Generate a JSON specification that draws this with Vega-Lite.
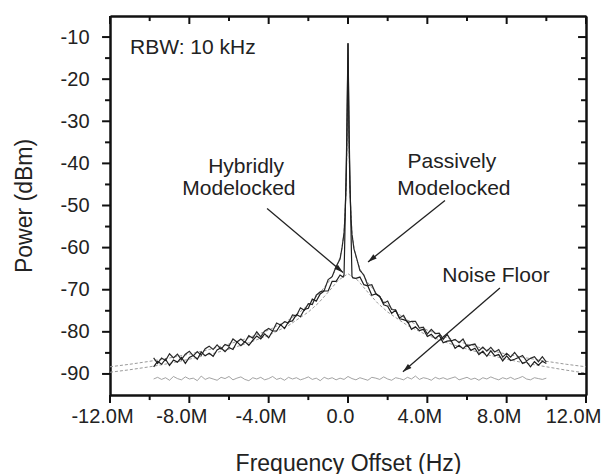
{
"$schema":"https://vega.github.io/schema/vega-lite/v6.json",
"width":476,"height":379,"autosize":"none",
"padding":{"left":110,"top":16,"right":16,"bottom":79},
"background":"white",
"config":{"view":{"stroke":null}},
"datasets":{
"fitA":[{"x":-12,"y":-88.3},{"x":-11,"y":-87.7},{"x":-10,"y":-87.0},{"x":-9,"y":-86.2},{"x":-8,"y":-85.3},{"x":-7,"y":-84.2},{"x":-6,"y":-82.9},{"x":-5,"y":-81.4},{"x":-4,"y":-79.6},{"x":-3,"y":-77.2},{"x":-2.5,"y":-75.6},{"x":-2,"y":-73.6},{"x":-1.5,"y":-71.2},{"x":-1,"y":-68.3},{"x":-0.8,"y":-66.8},{"x":-0.6,"y":-65.0},{"x":-0.4,"y":-62.2},{"x":-0.3,"y":-60.0},{"x":-0.2,"y":-56.5},{"x":-0.1,"y":-47.0},{"x":-0.05,"y":-36.0},{"x":0,"y":-11.5},{"x":0.05,"y":-36.0},{"x":0.1,"y":-47.0},{"x":0.2,"y":-56.5},{"x":0.3,"y":-60.0},{"x":0.4,"y":-62.2},{"x":0.6,"y":-65.0},{"x":0.8,"y":-66.8},{"x":1,"y":-68.3},{"x":1.5,"y":-71.2},{"x":2,"y":-73.6},{"x":2.5,"y":-75.6},{"x":3,"y":-77.2},{"x":4,"y":-79.6},{"x":5,"y":-81.4},{"x":6,"y":-82.9},{"x":7,"y":-84.2},{"x":8,"y":-85.3},{"x":9,"y":-86.2},{"x":10,"y":-87.0},{"x":11,"y":-87.7},{"x":12,"y":-88.3}],
"fitB":[{"x":-12,"y":-89.6},{"x":-11,"y":-89.0},{"x":-10,"y":-88.3},{"x":-9,"y":-87.5},{"x":-8,"y":-86.5},{"x":-7,"y":-85.4},{"x":-6,"y":-84.1},{"x":-5,"y":-82.6},{"x":-4,"y":-80.8},{"x":-3,"y":-78.5},{"x":-2,"y":-75.3},{"x":-1.5,"y":-73.2},{"x":-1,"y":-70.6},{"x":-0.5,"y":-67.8},{"x":0,"y":-66.2},{"x":0.5,"y":-67.8},{"x":1,"y":-70.6},{"x":1.5,"y":-73.2},{"x":2,"y":-75.3},{"x":3,"y":-78.5},{"x":4,"y":-80.8},{"x":5,"y":-82.6},{"x":6,"y":-84.1},{"x":7,"y":-85.4},{"x":8,"y":-86.5},{"x":9,"y":-87.5},{"x":10,"y":-88.3},{"x":11,"y":-89.1},{"x":12,"y":-89.8}],
"noise":[{"x":-9.8,"y":-91.2},{"x":-9.6,"y":-90.8},{"x":-9.4,"y":-91.3},{"x":-9.2,"y":-90.9},{"x":-9.0,"y":-91.5},{"x":-8.8,"y":-90.6},{"x":-8.6,"y":-91.1},{"x":-8.4,"y":-91.4},{"x":-8.2,"y":-90.7},{"x":-8.0,"y":-91.2},{"x":-7.8,"y":-91.0},{"x":-7.6,"y":-91.6},{"x":-7.4,"y":-90.5},{"x":-7.2,"y":-91.3},{"x":-7.0,"y":-90.9},{"x":-6.8,"y":-91.2},{"x":-6.6,"y":-91.5},{"x":-6.4,"y":-90.8},{"x":-6.2,"y":-91.1},{"x":-6.0,"y":-90.6},{"x":-5.8,"y":-91.4},{"x":-5.6,"y":-91.0},{"x":-5.4,"y":-90.7},{"x":-5.2,"y":-91.3},{"x":-5.0,"y":-91.6},{"x":-4.8,"y":-90.9},{"x":-4.6,"y":-91.2},{"x":-4.4,"y":-90.8},{"x":-4.2,"y":-91.4},{"x":-4.0,"y":-91.1},{"x":-3.8,"y":-90.6},{"x":-3.6,"y":-91.3},{"x":-3.4,"y":-91.0},{"x":-3.2,"y":-91.5},{"x":-3.0,"y":-90.8},{"x":-2.8,"y":-91.2},{"x":-2.6,"y":-90.9},{"x":-2.4,"y":-91.4},{"x":-2.2,"y":-91.1},{"x":-2.0,"y":-90.7},{"x":-1.8,"y":-91.3},{"x":-1.6,"y":-91.0},{"x":-1.4,"y":-91.6},{"x":-1.2,"y":-90.8},{"x":-1.0,"y":-91.2},{"x":-0.8,"y":-90.9},{"x":-0.6,"y":-91.4},{"x":-0.4,"y":-91.0},{"x":-0.2,"y":-91.3},{"x":0,"y":-90.6},{"x":0.2,"y":-91.1},{"x":0.4,"y":-91.4},{"x":0.6,"y":-90.9},{"x":0.8,"y":-91.2},{"x":1.0,"y":-91.5},{"x":1.2,"y":-90.8},{"x":1.4,"y":-91.0},{"x":1.6,"y":-91.3},{"x":1.8,"y":-90.7},{"x":2.0,"y":-91.2},{"x":2.2,"y":-91.5},{"x":2.4,"y":-90.9},{"x":2.6,"y":-91.1},{"x":2.8,"y":-91.4},{"x":3.0,"y":-90.8},{"x":3.2,"y":-91.2},{"x":3.4,"y":-90.5},{"x":3.6,"y":-91.3},{"x":3.8,"y":-90.9},{"x":4.0,"y":-91.1},{"x":4.2,"y":-91.5},{"x":4.4,"y":-90.8},{"x":4.6,"y":-91.2},{"x":4.8,"y":-90.9},{"x":5.0,"y":-91.3},{"x":5.2,"y":-91.0},{"x":5.4,"y":-90.7},{"x":5.6,"y":-91.4},{"x":5.8,"y":-91.1},{"x":6.0,"y":-90.8},{"x":6.2,"y":-91.3},{"x":6.4,"y":-91.0},{"x":6.6,"y":-91.5},{"x":6.8,"y":-90.9},{"x":7.0,"y":-91.2},{"x":7.2,"y":-90.7},{"x":7.4,"y":-91.1},{"x":7.6,"y":-91.4},{"x":7.8,"y":-90.9},{"x":8.0,"y":-91.2},{"x":8.2,"y":-90.8},{"x":8.4,"y":-91.3},{"x":8.6,"y":-91.0},{"x":8.8,"y":-90.6},{"x":9.0,"y":-91.2},{"x":9.2,"y":-91.4},{"x":9.4,"y":-90.9},{"x":9.6,"y":-91.1},{"x":9.8,"y":-91.3},{"x":10.0,"y":-91.0}],
"passive":[{"x":-9.8,"y":-86.2},{"x":-9.6,"y":-87.5},{"x":-9.4,"y":-86.2},{"x":-9.2,"y":-86.8},{"x":-9.0,"y":-85.2},{"x":-8.8,"y":-86.2},{"x":-8.6,"y":-85.3},{"x":-8.4,"y":-86.6},{"x":-8.2,"y":-85.3},{"x":-8.0,"y":-84.6},{"x":-7.8,"y":-85.7},{"x":-7.6,"y":-84.7},{"x":-7.4,"y":-85.6},{"x":-7.2,"y":-84.0},{"x":-7.0,"y":-83.4},{"x":-6.8,"y":-84.2},{"x":-6.6,"y":-83.1},{"x":-6.4,"y":-84.1},{"x":-6.2,"y":-83.0},{"x":-6.0,"y":-83.4},{"x":-5.8,"y":-81.7},{"x":-5.6,"y":-82.4},{"x":-5.4,"y":-81.7},{"x":-5.2,"y":-82.5},{"x":-5.0,"y":-80.9},{"x":-4.8,"y":-81.5},{"x":-4.6,"y":-80.0},{"x":-4.4,"y":-81.2},{"x":-4.2,"y":-79.8},{"x":-4.0,"y":-79.2},{"x":-3.8,"y":-79.8},{"x":-3.6,"y":-77.9},{"x":-3.4,"y":-78.4},{"x":-3.2,"y":-77.6},{"x":-3.0,"y":-77.9},{"x":-2.8,"y":-76.0},{"x":-2.6,"y":-76.2},{"x":-2.4,"y":-74.3},{"x":-2.2,"y":-74.9},{"x":-2.0,"y":-73.3},{"x":-1.8,"y":-73.5},{"x":-1.6,"y":-71.3},{"x":-1.4,"y":-70.5},{"x":-1.2,"y":-70.2},{"x":-1.0,"y":-67.6},{"x":-0.8,"y":-66.9},{"x":-0.6,"y":-64.5},{"x":-0.4,"y":-62.7},{"x":-0.3,"y":-60.0},{"x":-0.2,"y":-56.5},{"x":-0.15,"y":-52.5},{"x":-0.1,"y":-45.5},{"x":-0.05,"y":-33.0},{"x":0,"y":-11.5},{"x":0.05,"y":-33.5},{"x":0.1,"y":-46.0},{"x":0.15,"y":-53.0},{"x":0.2,"y":-56.8},{"x":0.3,"y":-60.3},{"x":0.4,"y":-61.9},{"x":0.6,"y":-65.4},{"x":0.8,"y":-66.5},{"x":1.0,"y":-69.0},{"x":1.2,"y":-68.8},{"x":1.4,"y":-70.9},{"x":1.6,"y":-71.6},{"x":1.8,"y":-73.2},{"x":2.0,"y":-72.7},{"x":2.2,"y":-74.7},{"x":2.4,"y":-74.8},{"x":2.6,"y":-76.7},{"x":2.8,"y":-76.1},{"x":3.0,"y":-77.8},{"x":3.2,"y":-77.5},{"x":3.4,"y":-77.5},{"x":3.6,"y":-79.1},{"x":3.8,"y":-78.9},{"x":4.0,"y":-80.5},{"x":4.2,"y":-79.4},{"x":4.4,"y":-80.4},{"x":4.6,"y":-80.3},{"x":4.8,"y":-81.8},{"x":5.0,"y":-80.6},{"x":5.2,"y":-82.2},{"x":5.4,"y":-81.8},{"x":5.6,"y":-82.6},{"x":5.8,"y":-81.7},{"x":6.0,"y":-83.5},{"x":6.2,"y":-83.1},{"x":6.4,"y":-82.9},{"x":6.6,"y":-84.5},{"x":6.8,"y":-83.6},{"x":7.0,"y":-84.6},{"x":7.2,"y":-83.7},{"x":7.4,"y":-84.8},{"x":7.6,"y":-84.2},{"x":7.8,"y":-86.0},{"x":8.0,"y":-85.1},{"x":8.2,"y":-86.0},{"x":8.4,"y":-84.9},{"x":8.6,"y":-86.1},{"x":8.8,"y":-85.6},{"x":9.0,"y":-86.9},{"x":9.2,"y":-86.3},{"x":9.4,"y":-85.9},{"x":9.6,"y":-87.1},{"x":9.8,"y":-85.9},{"x":10.0,"y":-87.2}],
"hybrid":[{"x":-9.8,"y":-88.3},{"x":-9.6,"y":-87.0},{"x":-9.4,"y":-87.7},{"x":-9.2,"y":-86.5},{"x":-9.0,"y":-88.0},{"x":-8.8,"y":-86.7},{"x":-8.6,"y":-87.2},{"x":-8.4,"y":-86.1},{"x":-8.2,"y":-87.5},{"x":-8.0,"y":-86.1},{"x":-7.8,"y":-85.6},{"x":-7.6,"y":-86.5},{"x":-7.4,"y":-84.8},{"x":-7.2,"y":-85.7},{"x":-7.0,"y":-85.1},{"x":-6.8,"y":-85.8},{"x":-6.6,"y":-84.3},{"x":-6.4,"y":-83.8},{"x":-6.2,"y":-84.7},{"x":-6.0,"y":-83.7},{"x":-5.8,"y":-84.2},{"x":-5.6,"y":-82.4},{"x":-5.4,"y":-83.3},{"x":-5.2,"y":-82.3},{"x":-5.0,"y":-83.2},{"x":-4.8,"y":-82.0},{"x":-4.6,"y":-81.0},{"x":-4.4,"y":-81.7},{"x":-4.2,"y":-80.5},{"x":-4.0,"y":-81.4},{"x":-3.8,"y":-79.8},{"x":-3.6,"y":-79.8},{"x":-3.4,"y":-78.3},{"x":-3.2,"y":-79.2},{"x":-3.0,"y":-77.6},{"x":-2.8,"y":-77.4},{"x":-2.6,"y":-75.9},{"x":-2.4,"y":-76.4},{"x":-2.2,"y":-74.7},{"x":-2.0,"y":-74.4},{"x":-1.8,"y":-72.2},{"x":-1.6,"y":-72.7},{"x":-1.4,"y":-71.0},{"x":-1.2,"y":-70.3},{"x":-1.0,"y":-70.3},{"x":-0.8,"y":-68.0},{"x":-0.6,"y":-68.0},{"x":-0.4,"y":-66.5},{"x":-0.25,"y":-67.0},{"x":-0.2,"y":-66.5},{"x":-0.17,"y":-60.0},{"x":-0.14,"y":-52.0},{"x":-0.1,"y":-44.0},{"x":-0.06,"y":-33.0},{"x":-0.03,"y":-22.0},{"x":0,"y":-11.5},{"x":0.03,"y":-22.5},{"x":0.06,"y":-33.5},{"x":0.1,"y":-44.5},{"x":0.14,"y":-52.5},{"x":0.17,"y":-60.5},{"x":0.2,"y":-66.8},{"x":0.25,"y":-67.2},{"x":0.4,"y":-67.3},{"x":0.6,"y":-67.0},{"x":0.8,"y":-68.8},{"x":1.0,"y":-69.1},{"x":1.2,"y":-71.3},{"x":1.4,"y":-71.0},{"x":1.6,"y":-71.6},{"x":1.8,"y":-73.6},{"x":2.0,"y":-73.9},{"x":2.2,"y":-75.6},{"x":2.4,"y":-74.9},{"x":2.6,"y":-76.9},{"x":2.8,"y":-77.1},{"x":3.0,"y":-77.5},{"x":3.2,"y":-79.4},{"x":3.4,"y":-78.8},{"x":3.6,"y":-79.7},{"x":3.8,"y":-79.4},{"x":4.0,"y":-81.1},{"x":4.2,"y":-80.6},{"x":4.4,"y":-81.6},{"x":4.6,"y":-80.8},{"x":4.8,"y":-82.6},{"x":5.0,"y":-82.2},{"x":5.2,"y":-82.1},{"x":5.4,"y":-83.9},{"x":5.6,"y":-83.2},{"x":5.8,"y":-84.0},{"x":6.0,"y":-83.1},{"x":6.2,"y":-84.4},{"x":6.4,"y":-83.9},{"x":6.6,"y":-85.4},{"x":6.8,"y":-84.6},{"x":7.0,"y":-85.8},{"x":7.2,"y":-84.5},{"x":7.4,"y":-85.7},{"x":7.6,"y":-85.4},{"x":7.8,"y":-86.9},{"x":8.0,"y":-85.7},{"x":8.2,"y":-86.8},{"x":8.4,"y":-86.5},{"x":8.6,"y":-86.1},{"x":8.8,"y":-87.5},{"x":9.0,"y":-87.1},{"x":9.2,"y":-88.3},{"x":9.4,"y":-87.1},{"x":9.6,"y":-87.9},{"x":9.8,"y":-87.0},{"x":10.0,"y":-87.5}],
"arrows":[{"id":"h","x":-4.08,"y":-50.7},{"id":"h","x":-0.25,"y":-65.9},{"id":"p","x":4.89,"y":-48.8},{"id":"p","x":1.01,"y":-63.4},{"id":"n","x":7.66,"y":-69.6},{"id":"n","x":2.77,"y":-89.5}],
"tips":[{"id":"h","x":-0.25,"y":-65.9},{"id":"p","x":1.01,"y":-63.4},{"id":"n","x":2.77,"y":-89.5}],
"labels":[{"t":"RBW: 10 kHz","x":-7.82,"y":-14.0},{"t":"Hybridly","x":-5.14,"y":-42.2},{"t":"Modelocked","x":-5.5,"y":-47.6},{"t":"Passively","x":5.24,"y":-41.2},{"t":"Modelocked","x":5.34,"y":-47.4},{"t":"Noise Floor","x":7.46,"y":-68.2}],
"xmaj":[{"x":-12},{"x":-8},{"x":-4},{"x":0},{"x":4},{"x":8},{"x":12}],
"xmin":[{"x":-10},{"x":-6},{"x":-2},{"x":2},{"x":6},{"x":10}],
"ymaj":[{"y":-90},{"y":-80},{"y":-70},{"y":-60},{"y":-50},{"y":-40},{"y":-30},{"y":-20},{"y":-10}],
"ymin":[{"y":-85},{"y":-75},{"y":-65},{"y":-55},{"y":-45},{"y":-35},{"y":-25},{"y":-15}]
},
"layer":[
{"data":{"name":"fitA"},"mark":{"type":"line","color":"#9a9a9a","strokeWidth":1,"strokeDash":[3,2]},
"encoding":{
"x":{"field":"x","type":"quantitative","scale":{"domain":[-12,12],"nice":false,"zero":false},
"axis":{"orient":"bottom","values":[-12,-8,-4,0,4,8,12],"labelExpr":"datum.value === 0 ? '0.0' : (datum.value < 0 ? '-' : '') + abs(datum.value) + '.0M'","ticks":false,"domainWidth":2.5,"domainColor":"#111","labelFont":"Liberation Sans","labelFontSize":20,"labelColor":"#222","labelPadding":11,"labelOffset":{"condition":{"test":"datum.value === 12","value":-13},"value":-8},"labelOverlap":false,"labelBound":false,"labelFlush":false,"grid":false,"title":"Frequency Offset (Hz)","titleFont":"Liberation Sans","titleFontSize":23,"titleFontWeight":"normal","titleColor":"#222","titleX":238,"titleY":75,"titleAlign":"center","titleBaseline":"alphabetic"}},
"y":{"field":"y","type":"quantitative","scale":{"domain":[-95,-5],"nice":false,"zero":false},
"axis":{"orient":"left","values":[-90,-80,-70,-60,-50,-40,-30,-20,-10],"labelExpr":"'' + datum.value","ticks":false,"domainWidth":2.5,"domainColor":"#111","labelFont":"Liberation Sans","labelFontSize":20,"labelColor":"#222","labelPadding":21,"labelOverlap":false,"labelBound":false,"labelFlush":false,"grid":false,"title":"Power (dBm)","titleFont":"Liberation Sans","titleFontSize":23,"titleFontWeight":"normal","titleColor":"#222","titleX":-86,"titleY":189.5,"titleAngle":-90,"titleAlign":"center","titleBaseline":"middle"}}
}},
{"data":{"name":"fitB"},"mark":{"type":"line","color":"#9a9a9a","strokeWidth":1,"strokeDash":[3,2]},
"encoding":{
"x":{"field":"x","type":"quantitative","scale":{"domain":[-12,12],"nice":false,"zero":false},
"axis":{"orient":"top","labels":false,"ticks":false,"domainWidth":2.5,"domainColor":"#111","grid":false,"title":null}},
"y":{"field":"y","type":"quantitative","scale":{"domain":[-95,-5],"nice":false,"zero":false},
"axis":{"orient":"right","labels":false,"ticks":false,"domainWidth":2.5,"domainColor":"#111","grid":false,"title":null}}
}},
{"data":{"name":"xmaj"},"mark":{"type":"rule","color":"#111","strokeWidth":2,"clip":false},"encoding":{"x":{"field":"x","type":"quantitative","scale":{"domain":[-12,12],"nice":false,"zero":false},"axis":null},"y":{"datum":-95,"type":"quantitative","scale":{"domain":[-95,-5],"nice":false,"zero":false},"axis":null},"y2":{"datum":-96.9}}},
{"data":{"name":"xmin"},"mark":{"type":"rule","color":"#111","strokeWidth":2,"clip":false},"encoding":{"x":{"field":"x","type":"quantitative","scale":{"domain":[-12,12],"nice":false,"zero":false},"axis":null},"y":{"datum":-95,"type":"quantitative","scale":{"domain":[-95,-5],"nice":false,"zero":false},"axis":null},"y2":{"datum":-96.2}}},
{"data":{"name":"xmaj"},"mark":{"type":"rule","color":"#111","strokeWidth":2,"clip":false},"encoding":{"x":{"field":"x","type":"quantitative","scale":{"domain":[-12,12],"nice":false,"zero":false},"axis":null},"y":{"datum":-5,"type":"quantitative","scale":{"domain":[-95,-5],"nice":false,"zero":false},"axis":null},"y2":{"datum":-6.9}}},
{"data":{"name":"xmin"},"mark":{"type":"rule","color":"#111","strokeWidth":2,"clip":false},"encoding":{"x":{"field":"x","type":"quantitative","scale":{"domain":[-12,12],"nice":false,"zero":false},"axis":null},"y":{"datum":-5,"type":"quantitative","scale":{"domain":[-95,-5],"nice":false,"zero":false},"axis":null},"y2":{"datum":-6.2}}},
{"data":{"name":"ymaj"},"mark":{"type":"rule","color":"#111","strokeWidth":2,"clip":false},"encoding":{"y":{"field":"y","type":"quantitative","scale":{"domain":[-95,-5],"nice":false,"zero":false},"axis":null},"x":{"datum":-12,"type":"quantitative","scale":{"domain":[-12,12],"nice":false,"zero":false},"axis":null},"x2":{"datum":-12.4}}},
{"data":{"name":"ymin"},"mark":{"type":"rule","color":"#111","strokeWidth":2,"clip":false},"encoding":{"y":{"field":"y","type":"quantitative","scale":{"domain":[-95,-5],"nice":false,"zero":false},"axis":null},"x":{"datum":-12,"type":"quantitative","scale":{"domain":[-12,12],"nice":false,"zero":false},"axis":null},"x2":{"datum":-12.25}}},
{"data":{"name":"ymaj"},"mark":{"type":"rule","color":"#111","strokeWidth":2,"clip":false},"encoding":{"y":{"field":"y","type":"quantitative","scale":{"domain":[-95,-5],"nice":false,"zero":false},"axis":null},"x":{"datum":12,"type":"quantitative","scale":{"domain":[-12,12],"nice":false,"zero":false},"axis":null},"x2":{"datum":11.6}}},
{"data":{"name":"ymin"},"mark":{"type":"rule","color":"#111","strokeWidth":2,"clip":false},"encoding":{"y":{"field":"y","type":"quantitative","scale":{"domain":[-95,-5],"nice":false,"zero":false},"axis":null},"x":{"datum":12,"type":"quantitative","scale":{"domain":[-12,12],"nice":false,"zero":false},"axis":null},"x2":{"datum":11.75}}},
{"data":{"name":"noise"},"mark":{"type":"line","color":"#8c8c8c","strokeWidth":0.8},"encoding":{"x":{"field":"x","type":"quantitative","scale":{"domain":[-12,12],"nice":false,"zero":false},"axis":null},"y":{"field":"y","type":"quantitative","scale":{"domain":[-95,-5],"nice":false,"zero":false},"axis":null}}},
{"data":{"name":"passive"},"mark":{"type":"line","color":"#2a2a2a","strokeWidth":1.2},"encoding":{"x":{"field":"x","type":"quantitative","scale":{"domain":[-12,12],"nice":false,"zero":false},"axis":null},"y":{"field":"y","type":"quantitative","scale":{"domain":[-95,-5],"nice":false,"zero":false},"axis":null}}},
{"data":{"name":"hybrid"},"mark":{"type":"line","color":"#1e1e1e","strokeWidth":1.2},"encoding":{"x":{"field":"x","type":"quantitative","scale":{"domain":[-12,12],"nice":false,"zero":false},"axis":null},"y":{"field":"y","type":"quantitative","scale":{"domain":[-95,-5],"nice":false,"zero":false},"axis":null}}},
{"data":{"name":"arrows"},"mark":{"type":"line","color":"#222","strokeWidth":1.3},"encoding":{"x":{"field":"x","type":"quantitative","scale":{"domain":[-12,12],"nice":false,"zero":false},"axis":null},"y":{"field":"y","type":"quantitative","scale":{"domain":[-95,-5],"nice":false,"zero":false},"axis":null},"detail":{"field":"id","type":"nominal"}}},
{"data":{"name":"tips"},"transform":[{"filter":"datum.id === 'h'"}],"mark":{"type":"point","shape":"M0,0L-0.6,2L0.6,2Z","filled":true,"color":"#222","opacity":1,"size":80,"angle":130},"encoding":{"x":{"field":"x","type":"quantitative","scale":{"domain":[-12,12],"nice":false,"zero":false},"axis":null},"y":{"field":"y","type":"quantitative","scale":{"domain":[-95,-5],"nice":false,"zero":false},"axis":null}}},
{"data":{"name":"tips"},"transform":[{"filter":"datum.id === 'p'"}],"mark":{"type":"point","shape":"M0,0L-0.6,2L0.6,2Z","filled":true,"color":"#222","opacity":1,"size":80,"angle":231},"encoding":{"x":{"field":"x","type":"quantitative","scale":{"domain":[-12,12],"nice":false,"zero":false},"axis":null},"y":{"field":"y","type":"quantitative","scale":{"domain":[-95,-5],"nice":false,"zero":false},"axis":null}}},
{"data":{"name":"tips"},"transform":[{"filter":"datum.id === 'n'"}],"mark":{"type":"point","shape":"M0,0L-0.6,2L0.6,2Z","filled":true,"color":"#222","opacity":1,"size":80,"angle":229},"encoding":{"x":{"field":"x","type":"quantitative","scale":{"domain":[-12,12],"nice":false,"zero":false},"axis":null},"y":{"field":"y","type":"quantitative","scale":{"domain":[-95,-5],"nice":false,"zero":false},"axis":null}}},
{"data":{"name":"labels"},"mark":{"type":"text","font":"Liberation Sans","fontSize":21,"color":"#222","align":"center","baseline":"alphabetic"},"encoding":{"x":{"field":"x","type":"quantitative","scale":{"domain":[-12,12],"nice":false,"zero":false},"axis":null},"y":{"field":"y","type":"quantitative","scale":{"domain":[-95,-5],"nice":false,"zero":false},"axis":null},"text":{"field":"t","type":"nominal"}}}
],
"resolve":{"axis":{"x":"independent","y":"independent"}}
}
